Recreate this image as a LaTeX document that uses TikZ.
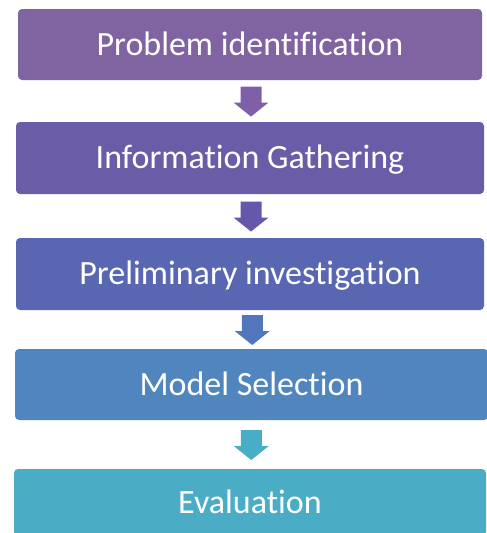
\documentclass[tikz,border=0pt]{standalone}
\usepackage{fontspec}
\setmainfont[Ligatures={NoCommon}]{Carlito}
\usetikzlibrary{calc}
\definecolor{cA}{RGB}{128,100,162}
\definecolor{cB}{RGB}{107,92,168}
\definecolor{cC}{RGB}{89,103,178}
\definecolor{cD}{RGB}{81,133,190}
\definecolor{cE}{RGB}{75,172,198}
\definecolor{aA}{RGB}{125,96,168}
\definecolor{aB}{RGB}{100,87,172}
\definecolor{aC}{RGB}{82,118,188}
\definecolor{aD}{RGB}{74,173,200}
\tikzset{
  stepbox/.style={rectangle, rounded corners=4pt, inner sep=0pt, outer sep=0pt,
    text=white, font=\fontsize{34}{40}\selectfont, text height=21.9pt, text depth=0pt},
  pics/downarrow/.style={code={
    \fill[#1] (-10.5,-14.5) -- (10.5,-14.5) -- (10.5,1.5) -- (17.5,1.5)
      -- (0,15.5) -- (-17.5,1.5) -- (-10.5,1.5) -- cycle;}}
}
\begin{document}
\begin{tikzpicture}[x=1pt,y=-1pt]
\useasboundingbox (0,0) rectangle (487,533);
\clip (0,0) rectangle (487,533);
\fill[white] (0,0) rectangle (487,533);
\node[stepbox, fill=cA, minimum width=464pt, minimum height=71pt] (b1) at (250,44.5) {Problem identification};
\node[stepbox, fill=cB, minimum width=468pt, minimum height=72pt] (b2) at (250,158) {Information Gathering};
\node[stepbox, fill=cC, minimum width=468pt, minimum height=72pt] (b3) at (250,274) {Preliminary investigation};
\node[stepbox, fill=cD, minimum width=473pt, minimum height=71pt] (b4) at (251.5,384.5) {Model Selection};
\node[stepbox, fill=cE, minimum width=472pt, minimum height=67pt] (b5) at (250,502.5) {Evaluation};
\coordinate (m1) at ($(b1.south)!0.5!(b2.north)$);
\coordinate (m2) at ($(b2.south)!0.5!(b3.north)$);
\coordinate (m3) at ($(b3.south)!0.5!(b4.north)$);
\coordinate (m4) at ($(b4.south)!0.5!(b5.north)$);
\pic at ($(m1)+(1,0)$) {downarrow=aA};
\pic at ($(m2)+(1,0)$) {downarrow=aB};
\pic at ($(m3)+(1.5,0)$) {downarrow=aC};
\pic at ($(m4)+(0.5,0)$) {downarrow=aD};
\end{tikzpicture}
\end{document}
